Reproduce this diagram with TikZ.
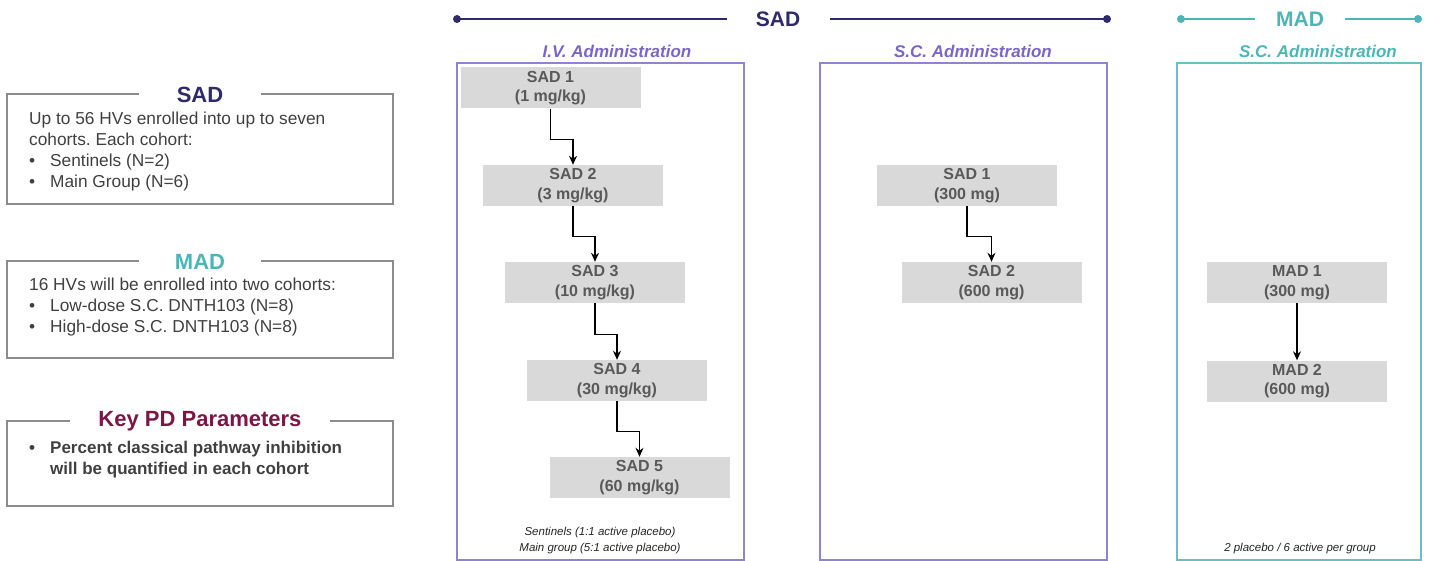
\documentclass[tikz,border=0pt]{standalone}
\usepackage{fontspec}
\setmainfont{Liberation Sans}
\usetikzlibrary{arrows.meta,calc}

\definecolor{sadnavy}{HTML}{2E2A6B}
\definecolor{sadviolet}{HTML}{7A66C6}
\definecolor{armviolet}{HTML}{8F84CF}
\definecolor{madteal}{HTML}{4DB5B5}
\definecolor{pdwine}{HTML}{7B1745}
\definecolor{cohortgray}{HTML}{D9D9D9}
\definecolor{labelgray}{HTML}{595959}
\definecolor{framegray}{HTML}{8C8C8C}
\definecolor{bodygray}{HTML}{404040}

\newcommand{\bul}{\makebox[21pt][l]{\textbullet}}
\frenchspacing

\begin{document}
\begin{tikzpicture}[
  x=1pt, y=-1pt,
  cohort/.style={fill=cohortgray, minimum width=180pt, minimum height=41pt, inner sep=0pt,
    align=center, text=labelgray, font=\fontsize{16}{19.5}\selectfont\bfseries},
  infobox/.style={draw=framegray, line width=1.3pt, minimum width=386pt},
  infotitle/.style={fill=white, inner sep=0pt, minimum height=26pt,
    font=\fontsize{22}{24}\selectfont\bfseries},
  infotext/.style={anchor=north west, inner sep=0pt, align=left, text=bodygray,
    font=\fontsize{17.3}{21}\selectfont},
  armbox/.style={draw, line width=1.3pt, minimum height=497pt},
  armhead/.style={font=\fontsize{17}{20}\selectfont\bfseries\itshape},
  note/.style={align=center, text=black!85, font=\fontsize{11.5}{16}\selectfont\itshape},
  flow/.style={-{Stealth[length=9pt,width=8pt]}, line width=1.3pt},
  phase/.style={line width=2pt},
  phasetitle/.style={fill=white, inner sep=0pt, minimum height=24pt,
    font=\fontsize{21}{24}\selectfont\bfseries},
]
\useasboundingbox (0,0) rectangle (1430,561);

% left hand summary boxes
\node [infobox, minimum height=110pt] (sadinfo) at (200,149) {};
\node [infotitle, text=sadnavy, minimum width=122pt] (sadinfotitle) at (200,95) {SAD};
\node [infotext] (sadinfotext) at (29,112) {Up to 56 HVs enrolled into up to seven\\
  cohorts. Each cohort:\\ \bul Sentinels (N=2)\\ \bul Main Group (N=6)};

\node [infobox, minimum height=97pt] (madinfo) at (200,309.5) {};
\node [infotitle, text=madteal, minimum width=122pt] (madinfotitle) at (200,262) {MAD};
\node [infotext] (madinfotext) at (29,278) {16 HVs will be enrolled into two cohorts:\\
  \bul Low-dose S.C. DNTH103 (N=8)\\ \bul High-dose S.C. DNTH103 (N=8)};

\node [infobox, minimum height=85pt] (pdinfo) at (200,463.5) {};
\node [infotitle, text=pdwine, minimum width=260pt] (pdinfotitle) at (200,421) {Key PD Parameters};
\node [infotext, font=\fontsize{17}{21}\selectfont\bfseries] (pdinfotext) at (29,441)
  {\bul Percent classical pathway inhibition\\ \makebox[21pt]{}will be quantified in each cohort};

% phase headers
\coordinate (sadL) at (457,19);
\coordinate (sadR) at (1107,19);
\coordinate (madL) at (1181,19);
\coordinate (madR) at (1418,19);
\draw [phase, sadnavy] (sadL) -- (sadR);
\fill [sadnavy] (sadL) circle [radius=4] (sadR) circle [radius=4];
\node [phasetitle, text=sadnavy, minimum width=103pt] (sadphase) at (778,19) {SAD};
\draw [phase, madteal] (madL) -- (madR);
\fill [madteal] (madL) circle [radius=4] (madR) circle [radius=4];
\node [phasetitle, text=madteal, minimum width=90pt] (madphase) at (1300,19) {MAD};

% arms
\node [armhead, text=sadviolet] (ivhead) at (617,51) {I.V. Administration};
\node [armhead, text=sadviolet] (schead) at (973,51) {S.C. Administration};
\node [armhead, text=madteal] (madhead) at (1318,51) {S.C. Administration};
\node [armbox, draw=armviolet, minimum width=287pt] (ivbox) at (600.5,311.5) {};
\node [armbox, draw=armviolet, minimum width=287pt] (scbox) at (963.5,311.5) {};
\node [armbox, draw=madteal!85, minimum width=244pt] (madbox) at (1299,311.5) {};

% cohorts
\node [cohort] (iv1) at (550.5,88) {SAD 1\\(1 mg/kg)};
\node [cohort] (iv2) at (573,185.5) {SAD 2\\(3 mg/kg)};
\node [cohort] (iv3) at (595,282.5) {SAD 3\\(10 mg/kg)};
\node [cohort] (iv4) at (617,380.5) {SAD 4\\(30 mg/kg)};
\node [cohort] (iv5) at (639.5,477.5) {SAD 5\\(60 mg/kg)};
\node [cohort] (sc1) at (967,185.5) {SAD 1\\(300 mg)};
\node [cohort] (sc2) at (991.5,282.5) {SAD 2\\(600 mg)};
\node [cohort] (mad1) at (1297,282.5) {MAD 1\\(300 mg)};
\node [cohort] (mad2) at (1297,381) {MAD 2\\(600 mg)};

\foreach \a/\b in {iv1/iv2, iv2/iv3, iv3/iv4, iv4/iv5, sc1/sc2}
  \draw [flow] (\a.south) |- ($(\a.south)!.55!(\b.north)$) -| (\b.north);
\draw [flow] (mad1) -- (mad2);

% footnotes
\node [note] (ivnote) at (600,541) {Sentinels (1:1 active placebo)\\Main group (5:1 active placebo)};
\node [note] (madnote) at (1300,549) {2 placebo / 6 active per group};

\end{tikzpicture}
\end{document}
